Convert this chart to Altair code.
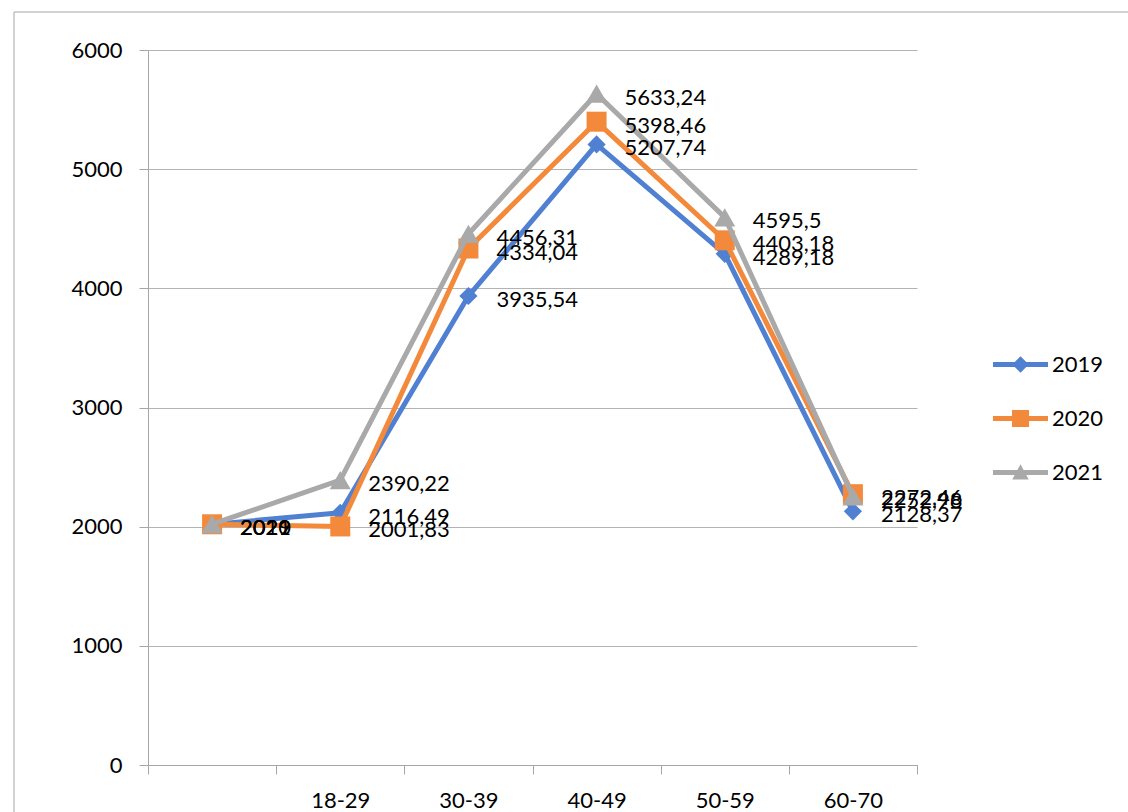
import altair as alt
import pandas as pd

# ---- data ----
categories = ["", "18-29", "30-39", "40-49", "50-59", "60-70"]
series_names = ["2019", "2020", "2021"]
values_2019 = [2019, 2116.49, 3935.54, 5207.74, 4289.18, 2128.37]
values_2020 = [2020, 2001.83, 4334.04, 5398.46, 4403.18, 2272.46]
values_2021 = [2021, 2390.22, 4456.31, 5633.24, 4595.5, 2252.98]
y_ticks = [0, 1000, 2000, 3000, 4000, 5000, 6000]

colors = ["#4F80D1", "#F38A3B", "#A9A9A9"]
marker_shapes = ["diamond", "square", "triangle-up"]
marker_sizes = [330, 400, 440]
FONT = "Lato"

rows = []
for name, vals in zip(series_names, [values_2019, values_2020, values_2021]):
    for cat, v in zip(categories, vals):
        rows.append({"cat": cat, "series": name, "value": v,
                     "label": str(v).replace(".", ",")})
df = pd.DataFrame(rows)

x_enc = alt.X(
    "cat:N",
    sort=categories,
    bandPosition=0.5,
    scale=alt.Scale(type="band", domain=categories, paddingInner=0, paddingOuter=0),
    axis=alt.Axis(
        title=None, labelAngle=0, tickBand="extent", grid=False,
        labelFont=FONT, labelFontSize=22, labelColor="black",
        tickSize=9, labelPadding=16, tickColor="#A6A6A6", domainColor="#A6A6A6",
    ),
)
y_enc = alt.Y(
    "value:Q",
    scale=alt.Scale(domain=[0, 6000], nice=False, zero=True),
    axis=alt.Axis(
        title=None, values=y_ticks, format="d", grid=True, gridColor="#B3B3B3",
        labelFont=FONT, labelFontSize=22, labelColor="black",
        tickSize=9, labelPadding=17, tickColor="#A6A6A6", domainColor="#A6A6A6",
    ),
)
color_scale = alt.Scale(domain=series_names, range=colors)

# legend symbols: a line segment with the series marker on it
line_path = "M-1,-0.09H1V0.09H-1Z"
legend_paths = [
    line_path + " M0,-0.3L0.3,0L0,0.3L-0.3,0Z",
    line_path + " M-0.31,-0.31H0.31V0.31H-0.31Z",
    line_path + " M0,-0.3L0.3,0.25L-0.3,0.25Z",
]

border = alt.Chart(pd.DataFrame({"k": [0]})).mark_rect(
    fill=None, stroke="#A6A6A6", strokeWidth=1
).encode(
    x=alt.value(14 - 148), x2=alt.value(1140 - 148),
    y=alt.value(12 - 50), y2=alt.value(830 - 50),
)

base = alt.Chart(df)

layers = [border]
for name, col, shp, sz in zip(series_names, colors, marker_shapes, marker_sizes):
    sub = base.transform_filter(alt.datum.series == name)
    layers.append(
        sub.mark_line(strokeWidth=5, strokeJoin="round", color=col).encode(x=x_enc, y=y_enc)
    )
    layers.append(
        sub.mark_point(filled=True, opacity=1, size=sz, shape=shp, color=col).encode(x=x_enc, y=y_enc)
    )

legend_layer = base.transform_filter("datum.value < 0").mark_point(
    filled=True, opacity=1, size=3025, strokeWidth=0
).encode(
    x=x_enc, y=y_enc,
    color=alt.Color(
        "series:N", scale=color_scale,
        legend=alt.Legend(
            title=None, orient="none", legendX=845, legendY=287,
            labelFont=FONT, labelFontSize=22, labelColor="black",
            symbolSize=3025, padding=0, rowPadding=15, labelOffset=4,
            symbolStrokeWidth=0, symbolOpacity=1,
        ),
    ),
    shape=alt.Shape("series:N", scale=alt.Scale(domain=series_names, range=legend_paths),
                    legend=alt.Legend(title=None)),
)
layers.append(legend_layer)

labels = base.mark_text(
    align="left", baseline="middle", dx=28, dy=4,
    font=FONT, fontSize=22, color="black",
).encode(x=x_enc, y=y_enc, text="label:N")
layers.append(labels)

chart = alt.layer(*layers).properties(
    width=769, height=715,
    padding={"left": 148, "top": 50, "right": 211, "bottom": 47},
    autosize=alt.AutoSizeParams(type="none"),
    background="white",
).configure_view(stroke=None)

chart.save("out.html", embed_options={"renderer": "svg", "actions": False})
